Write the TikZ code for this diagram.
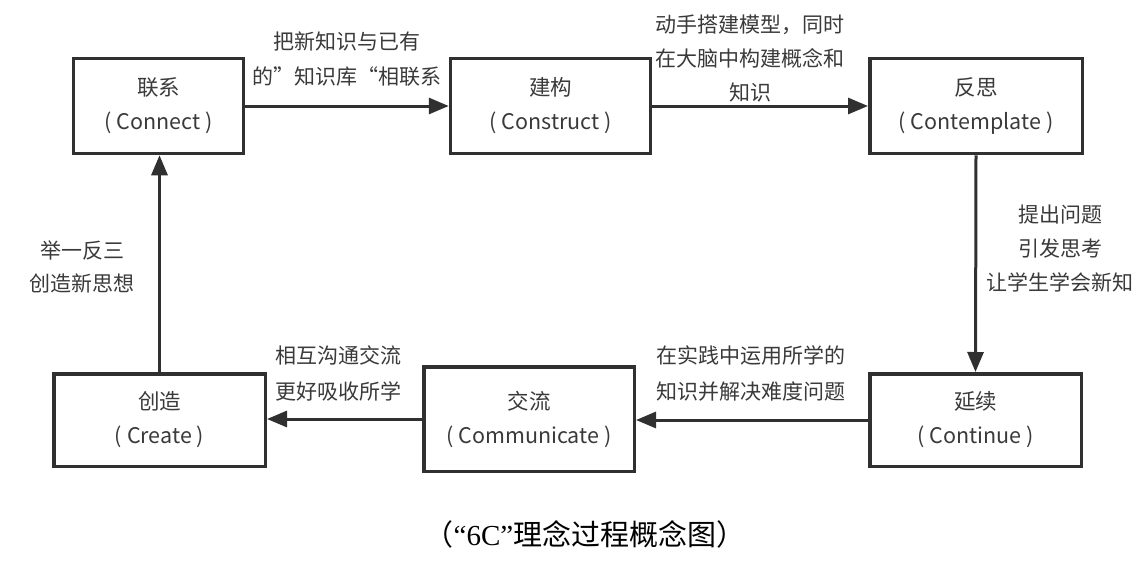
\documentclass[tikz,border=0pt]{standalone}
\usepackage{fontspec}
\setmainfont{Noto Sans CJK SC}
\newfontfamily\latinserif{Liberation Serif}
\usetikzlibrary{arrows.meta}
\definecolor{ink}{HTML}{303030}
\definecolor{txt}{HTML}{3A3A3A}
\tikzset{
  cbox/.style={draw=ink, line width=3.5pt, fill=white, text=txt, align=center,
    inner sep=0pt, font=\fontsize{21.5}{34}\selectfont},
  lab/.style={text=txt, align=center, inner sep=0pt, font=\fontsize{21}{35}\selectfont},
  arr/.style={draw=ink, line width=3pt, -{Triangle[length=20pt,width=16pt]}}
}
\begin{document}
\begin{tikzpicture}[x=1pt,y=-1pt]
\path[use as bounding box, fill=white] (0,0) rectangle (1144,573);
% boxes
\node[cbox, minimum width=170pt, minimum height=95pt] (connect) at (158.5,106) {联系\\( Connect )};
\node[cbox, minimum width=200pt, minimum height=95pt] (construct) at (550.5,106) {建构\\( Construct )};
\node[cbox, minimum width=212.5pt, minimum height=95pt] (contemplate) at (976,106) {反思\\( Contemplate )};
\node[cbox, minimum width=211.5pt, minimum height=92.5pt] (create) at (159.5,420) {创造\\( Create )};
\node[cbox, minimum width=210.5pt, minimum height=104.5pt] (communicate) at (529,419) {交流\\( Communicate )};
\node[cbox, minimum width=211.5pt, minimum height=92.5pt] (continue) at (975.5,420) {延续\\( Continue )};
% connectors
\draw[arr] (connect.east) -- (construct.west);
\draw[arr] (construct.east) -- (contemplate.west);
\draw[arr] (contemplate.south) -- (continue.north);
\draw[arr] (continue.west) -- (continue.west -| communicate.east);
\draw[arr] (communicate.west) -- (communicate.west -| create.east);
\draw[arr] (create.north) -- (create.north |- connect.south);
% labels
\node[lab] (l1) at (347,59.5) {把新知识与已有\\的”知识库“相联系};
\node[lab, font=\fontsize{21}{34}\selectfont] (l2) at (750,59) {动手搭建模型，同时\\在大脑中构建概念和\\知识};
\node[lab, font=\fontsize{21}{34}\selectfont] (l3) at (1060,249) {提出问题\\引发思考\\让学生学会新知};
\node[lab, font=\fontsize{21}{33}\selectfont] (l4) at (82.5,266.5) {举一反三\\创造新思想};
\node[lab, font=\fontsize{21}{36}\selectfont] (l5) at (338,373.5) {相互沟通交流\\更好吸收所学};
\node[lab, font=\fontsize{21}{36}\selectfont] (l6) at (751,373.5) {在实践中运用所学的\\知识并解决难度问题};
% caption
\node[text=black, inner sep=0pt, font=\fontsize{29}{34}\selectfont] (cap) at (585,534) {（{\latinserif “6C”}理念过程概念图）};
\end{tikzpicture}
\end{document}
